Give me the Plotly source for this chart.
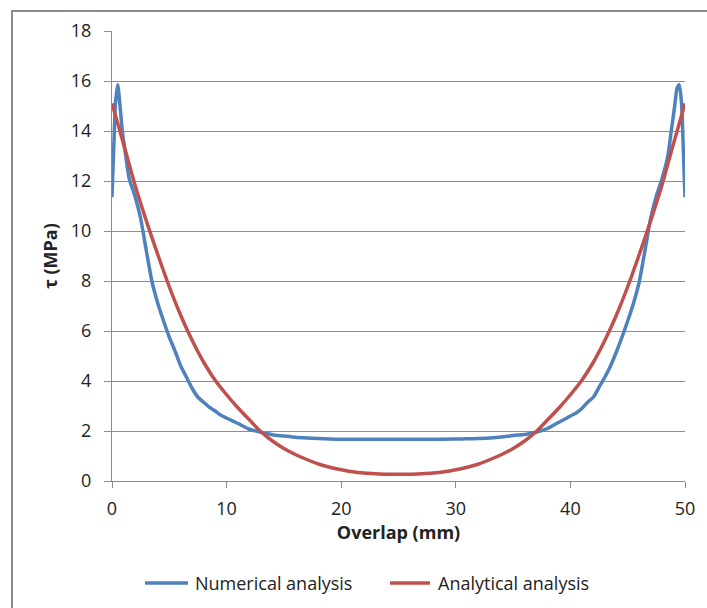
import plotly.graph_objects as go

# Numerical analysis
num_x = [0, 0.15, 0.3, 0.5, 0.7, 0.9, 1.2, 1.5, 2.0, 2.5, 3.0, 3.5, 4.0, 4.5, 5.0, 5.5,
         6.0, 6.5, 7.0, 7.5, 8.0, 8.5, 9.0, 9.5, 10, 11, 12, 13, 14, 15, 16, 17, 18,
         19, 20, 22.5, 25, 27.5, 30, 31, 32, 33, 34, 35, 36, 37, 38, 39, 40, 40.5,
         41, 41.5, 42, 42.5, 43, 43.5, 44, 44.5, 45, 45.5, 46, 46.5, 47, 47.5, 48,
         48.5, 48.8, 49.1, 49.3, 49.5, 49.7, 49.85, 50]
num_y = [11.35, 13.3, 15.1, 15.85, 15.0, 14.0, 13.0, 12.1, 11.4, 10.5, 9.2, 7.95, 7.1, 6.4,
         5.75, 5.2, 4.6, 4.15, 3.7, 3.35, 3.15, 2.95, 2.8, 2.63, 2.52, 2.3, 2.07, 1.95,
         1.85, 1.8, 1.75, 1.72, 1.7, 1.68, 1.67, 1.67, 1.67, 1.67, 1.68, 1.69, 1.7,
         1.72, 1.76, 1.82, 1.86, 1.95, 2.1, 2.35, 2.6, 2.72, 2.9, 3.15, 3.35, 3.75,
         4.15, 4.6, 5.15, 5.75, 6.4, 7.1, 7.95, 9.2, 10.5, 11.4, 12.1, 13.0, 14.0,
         15.0, 15.7, 15.85, 15.1, 13.3, 11.35]

# Analytical analysis
ana_x = list(range(0, 51))
ana_y = [15.1, 13.5, 11.85, 10.4, 9.05, 7.77, 6.62, 5.62, 4.75, 4.03, 3.45, 2.92, 2.44,
         1.97, 1.6, 1.3, 1.06, 0.86, 0.68, 0.55, 0.45, 0.37, 0.32, 0.29, 0.27, 0.27,
         0.27, 0.29, 0.32, 0.37, 0.45, 0.55, 0.68, 0.86, 1.06, 1.3, 1.6, 1.97, 2.44,
         2.92, 3.45, 4.03, 4.75, 5.62, 6.62, 7.77, 9.05, 10.4, 11.85, 13.5, 15.1]

x_ticks = [0, 10, 20, 30, 40, 50]
y_ticks = [0, 2, 4, 6, 8, 10, 12, 14, 16, 18]
series_names = ["Numerical analysis", "Analytical analysis"]
series_colors = ["#4F81BD", "#C0504D"]

FONT = "Open Sans"
GRID = "#8c8c8c"
TXT = "#222222"

W, H = 707, 608
L, R, T, B = 112, 22, 31, 127
pw, ph = W - L - R, H - T - B


def px_x(p):
    return (p - L) / pw


def px_y(p):
    return (H - B - p) / ph


fig = go.Figure()
fig.add_trace(go.Scatter(x=num_x, y=num_y, mode="lines", name=series_names[0],
                         line=dict(color=series_colors[0], width=3.5, shape="spline", smoothing=0.6)))
fig.add_trace(go.Scatter(x=ana_x, y=ana_y, mode="lines", name=series_names[1],
                         line=dict(color=series_colors[1], width=3.5, shape="spline", smoothing=0.6)))

# custom legend (Excel style, long line samples)
legend_items = [(145, 188, 193), (390, 430, 436)]
shapes = [dict(type="rect", xref="paper", yref="paper",
               x0=px_x(12), x1=1.3, y0=-0.5, y1=px_y(11),
               line=dict(color="#8a8a8a", width=2), fillcolor="rgba(0,0,0,0)", layer="below")]
annotations = []
for (a, b, t), name, col in zip(legend_items, series_names, series_colors):
    shapes.append(dict(type="line", xref="paper", yref="paper",
                       x0=px_x(a), x1=px_x(b), y0=px_y(583), y1=px_y(583),
                       line=dict(color=col, width=3.5)))
    annotations.append(dict(xref="paper", yref="paper", x=px_x(t), y=px_y(583),
                            xanchor="left", yanchor="middle", showarrow=False,
                            text=name, font=dict(family=FONT, size=18, color=TXT)))

fig.update_layout(
    width=W, height=H,
    margin=dict(l=L, r=R, t=T, b=B),
    paper_bgcolor="white", plot_bgcolor="white",
    font=dict(family=FONT, size=18, color=TXT),
    showlegend=False,
    xaxis=dict(range=[0, 50], tickvals=x_ticks, showgrid=False, zeroline=False,
               showline=True, linecolor=GRID, linewidth=1, ticks="outside", ticklen=6,
               tickcolor=GRID, tickfont=dict(size=18), ticklabelstandoff=5,
               title=dict(text="<b>Overlap (mm)</b>", font=dict(size=18), standoff=6)),
    yaxis=dict(range=[0, 18], tickvals=y_ticks, showgrid=True, gridcolor=GRID, gridwidth=1,
               zeroline=False, showline=True, linecolor=GRID, linewidth=1,
               ticks="outside", ticklen=7, tickcolor=GRID, tickfont=dict(size=18),
               ticklabelstandoff=9,
               title=dict(text="<b>τ (MPa)</b>", font=dict(size=18), standoff=8)),
    shapes=shapes,
    annotations=annotations,
)

fig.write_html("out.html")
